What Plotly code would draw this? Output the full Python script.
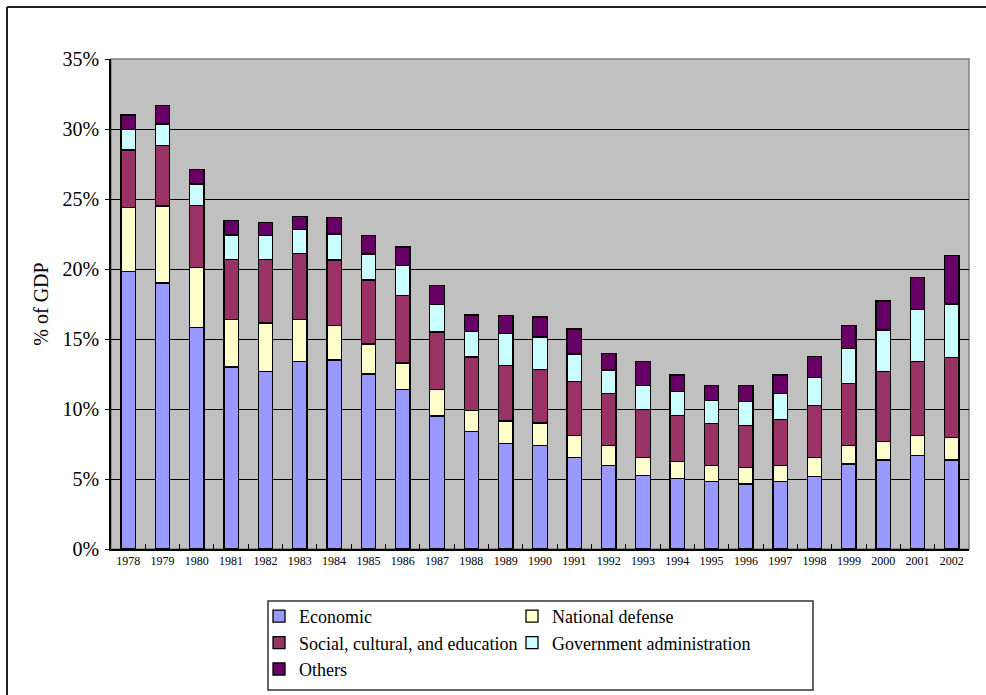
import plotly.graph_objects as go

years = [str(y) for y in range(1978, 2003)]

economic = [19.8, 19.0, 15.8, 13.0, 12.7, 13.4, 13.5, 12.5, 11.4, 9.5, 8.4, 7.55, 7.4, 6.55,
            5.95, 5.25, 5.05, 4.8, 4.65, 4.8, 5.2, 6.07, 6.36, 6.67, 6.36]
defense = [4.6, 5.5, 4.3, 3.4, 3.45, 3.0, 2.46, 2.15, 1.88, 1.88, 1.48, 1.59, 1.6, 1.55,
           1.43, 1.31, 1.19, 1.14, 1.17, 1.14, 1.34, 1.31, 1.31, 1.43, 1.59]
social = [4.1, 4.3, 4.43, 4.29, 4.53, 4.72, 4.69, 4.57, 4.84, 4.12, 3.83, 3.96, 3.81, 3.85,
          3.74, 3.38, 3.28, 3.03, 2.98, 3.31, 3.69, 4.45, 5.0, 5.28, 5.72]
govadmin = [1.45, 1.55, 1.55, 1.73, 1.73, 1.71, 1.85, 1.86, 2.11, 1.98, 1.83, 2.3, 2.33, 1.98,
            1.67, 1.74, 1.72, 1.66, 1.73, 1.86, 2.0, 2.5, 2.97, 3.74, 3.83]
others = [1.05, 1.35, 1.04, 1.03, 0.89, 0.9, 1.19, 1.33, 1.34, 1.33, 1.17, 1.29, 1.43, 1.78,
          1.19, 1.73, 1.19, 1.07, 1.15, 1.31, 1.5, 1.62, 2.07, 2.28, 3.45]

series = [
    ("Economic", economic, "#9999FF", "legend"),
    ("National defense", defense, "#FFFFCC", "legend2"),
    ("Social, cultural, and education", social, "#993366", "legend"),
    ("Government administration", govadmin, "#CCFFFF", "legend2"),
    ("Others", others, "#660066", "legend"),
]

W, H = 986, 695
L, R, T, B = 111, 17, 59, 146
pw = W - L - R
ph = H - T - B


def px(x):
    return (x - L) / pw


def py(y):
    return (H - B - y) / ph


fig = go.Figure()
for name, vals, color, lg in series:
    fig.add_trace(go.Bar(
        x=years, y=vals, name=name, legend=lg,
        marker=dict(color=color, line=dict(color="black", width=1.3)),
    ))

font = "Liberation Serif"

legend_common = dict(
    xanchor="left", yanchor="top", orientation="v", traceorder="normal",
    font=dict(size=18, family=font, color="black"), bgcolor="rgba(0,0,0,0)",
    tracegroupgap=0, itemclick=False,
)

fig.update_layout(
    width=W, height=H,
    margin=dict(l=L, r=R, t=T, b=B, autoexpand=False),
    barmode="stack",
    bargap=0.58,
    paper_bgcolor="white",
    plot_bgcolor="#C0C0C0",
    font=dict(family=font, color="black"),
    legend=dict(x=px(259), y=py(598), **legend_common),
    legend2=dict(x=px(512), y=py(598), **legend_common),
    xaxis=dict(
        type="category",
        showline=True, linecolor="black", linewidth=1.5,
        ticks="inside", tickson="boundaries", ticklen=5, tickcolor="black",
        tickfont=dict(size=12, family=font),
        showgrid=False,
    ),
    yaxis=dict(
        range=[0, 35], dtick=5, ticksuffix="%",
        showline=True, linecolor="black", linewidth=1.5,
        ticks="outside", ticklen=4, tickcolor="black",
        showgrid=True, gridcolor="black", gridwidth=1,
        zeroline=False,
        tickfont=dict(size=20, family=font),
        ticklabelstandoff=2,
        title=dict(text="% of GDP", font=dict(size=20, family=font), standoff=9),
    ),
    shapes=[
        # plot area border
        dict(type="rect", xref="x domain", yref="y domain", x0=0, x1=1, y0=0, y1=1,
             line=dict(color="#808080", width=1.5), layer="below"),
        # outer chart frame: only its left and top edges fall inside the picture
        dict(type="line", xref="paper", yref="paper",
             x0=px(7), x1=px(7), y0=py(7), y1=py(H + 20),
             line=dict(color="#222222", width=2), layer="above"),
        dict(type="line", xref="paper", yref="paper",
             x0=px(7), x1=px(W + 20), y0=py(7), y1=py(7),
             line=dict(color="#222222", width=2), layer="above"),
        # legend box
        dict(type="rect", xref="paper", yref="paper",
             x0=px(268), x1=px(813), y0=py(690), y1=py(601),
             line=dict(color="#333333", width=1.5), layer="above"),
    ],
)

fig.write_html("out.html")
